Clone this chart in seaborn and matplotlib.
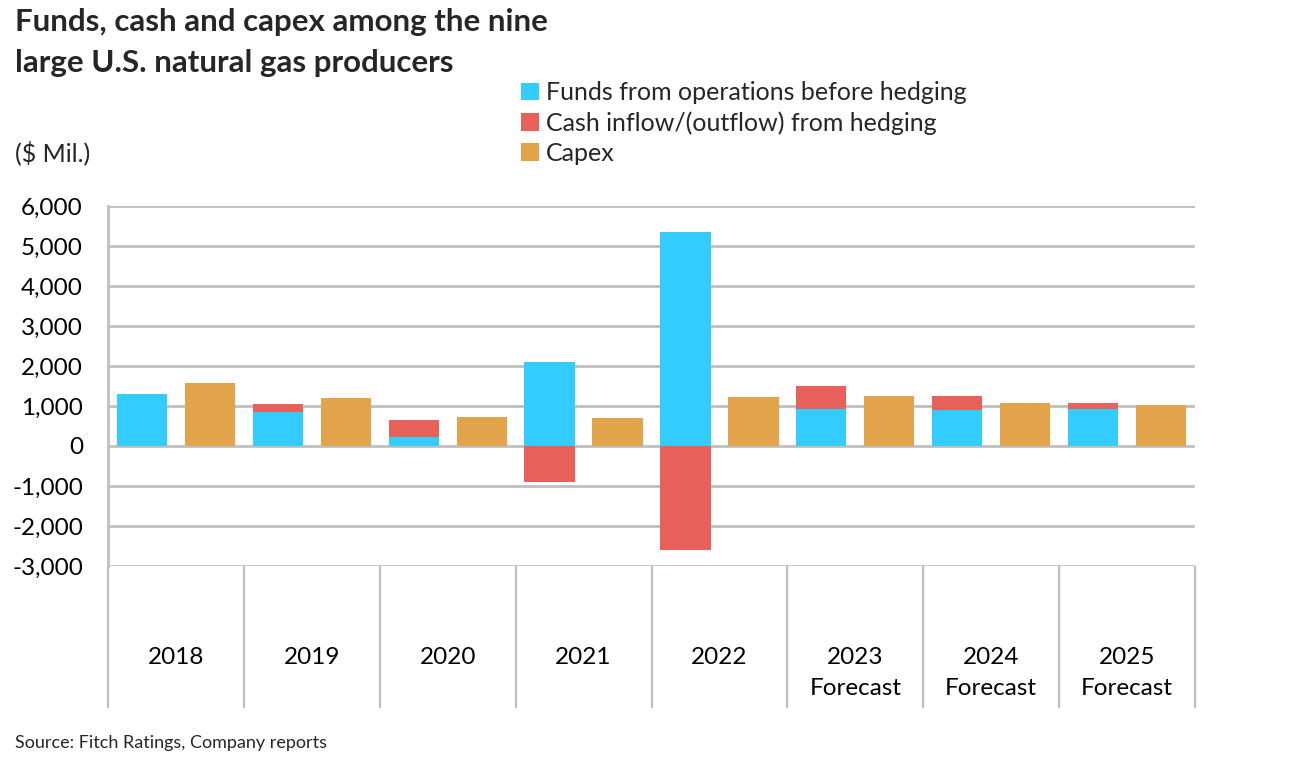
import numpy as np
import pandas as pd
import seaborn as sns
import matplotlib
matplotlib.use("Agg")
import matplotlib.pyplot as plt
from matplotlib.patches import Patch
from matplotlib.ticker import FuncFormatter

# ---- data ----
years = ["2018", "2019", "2020", "2021", "2022",
         "2023\nForecast", "2024\nForecast", "2025\nForecast"]
funds = [1300, 860, 215, 2100, 5350, 925, 910, 925]
hedging = [0, 190, 425, -890, -2600, 585, 340, 150]
capex = [1575, 1190, 725, 700, 1225, 1260, 1075, 1025]
yticks = [-3000, -2000, -1000, 0, 1000, 2000, 3000, 4000, 5000, 6000]
series_labels = ["Funds from operations before hedging",
                 "Cash inflow/(outflow) from hedging",
                 "Capex"]

BLUE = "#33CCFF"
RED = "#E8605A"
CAPEX = "#E3A34B"
GRID = "#BFBFBF"

sns.set_theme(style="white")
plt.rcParams['font.family'] = ['Lato', 'DejaVu Sans']

W, H = 1291, 777
fig = plt.figure(figsize=(W / 100, H / 100), dpi=100)
ax = fig.add_axes([108 / W, 1 - 566 / H, (1195 - 108) / W, 360 / H])

# stacked layering: red drawn as total when positive, blue drawn on top
red_layer = [f + h if h > 0 else h for f, h in zip(funds, hedging)]
df_red = pd.DataFrame({"year": years, "value": red_layer, "slot": "ops"})
df_blue = pd.DataFrame({"year": years, "value": funds, "slot": "ops"})
df_cap = pd.DataFrame({"year": years, "value": capex, "slot": "capex"})

common = dict(x="year", y="value", hue="slot", hue_order=["ops", "capex"],
              order=years, width=1.0, gap=0.26, dodge=True, legend=False,
              ax=ax, saturation=1, linewidth=0, errorbar=None)
sns.barplot(data=df_red, palette={"ops": RED, "capex": CAPEX}, **common)
sns.barplot(data=df_blue, palette={"ops": BLUE, "capex": CAPEX}, **common)
sns.barplot(data=df_cap, palette={"ops": BLUE, "capex": CAPEX}, **common)

ax.set_xlim(-0.5, len(years) - 0.5)
ax.set_ylim(-3000, 6000)
ax.set_yticks(yticks)
ax.yaxis.set_major_formatter(FuncFormatter(lambda v, p: f"{v:,.0f}"))
ax.set_xlabel("")
ax.set_ylabel("")

ax.set_axisbelow(True)
ax.yaxis.grid(True, color=GRID, linewidth=2)
ax.xaxis.grid(False)
for s in ["top", "right", "bottom"]:
    ax.spines[s].set_visible(False)
ax.spines["left"].set_color(GRID)
ax.spines["left"].set_linewidth(2)

# category separators below the plot area
trans = ax.get_xaxis_transform()
for b in np.arange(-0.5, len(years), 1.0):
    ax.plot([b, b], [0, -142 / 360], transform=trans, color=GRID,
            linewidth=1.6, clip_on=False, solid_capstyle="butt")

ax.tick_params(axis="x", length=0, pad=58, labelsize=17.5, colors="#000000")
ax.tick_params(axis="y", length=0, pad=18, labelsize=17.5, colors="#000000")
for lbl in ax.get_xticklabels():
    lbl.set_linespacing(1.6)
    lbl.set_verticalalignment("top")

# titles & notes
fig.text(15 / W, 1 - 22 / H, "Funds, cash and capex among the nine",
         fontsize=22.5, fontweight="bold", va="center", ha="left")
fig.text(15 / W, 1 - 63 / H, "large U.S. natural gas producers",
         fontsize=22.5, fontweight="bold", va="center", ha="left")
fig.text(15 / W, 1 - 153 / H, "($ Mil.)", fontsize=18, va="center", ha="left")
fig.text(15 / W, 1 - 743 / H, "Source: Fitch Ratings, Company reports",
         fontsize=13, va="center", ha="left")

handles = [Patch(facecolor=c, edgecolor="none") for c in (BLUE, RED, CAPEX)]
fig.legend(handles, series_labels, loc="upper left",
           bbox_to_anchor=(521 / W, 1 - 81 / H), frameon=False,
           fontsize=18, handlelength=0.7, handleheight=0.7,
           handletextpad=0.3, labelspacing=0.28, borderpad=0,
           borderaxespad=0)

fig.savefig("out.png", dpi=100)
